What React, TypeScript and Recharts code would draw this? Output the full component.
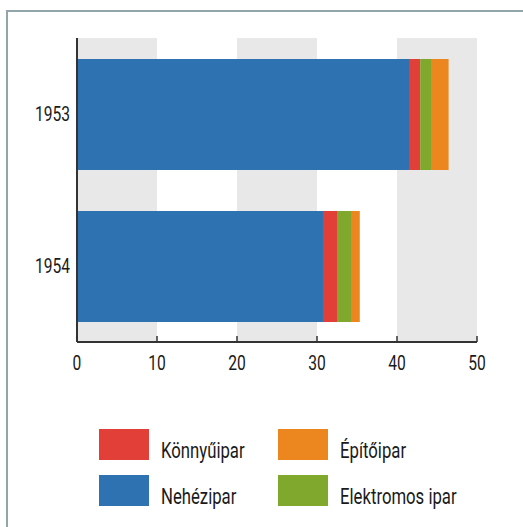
import React from 'react';
import { BarChart, Bar, XAxis, YAxis, ReferenceArea } from 'recharts';

const years = ['1953', '1954'];
const nehezipar = [41.5, 30.75];
const konnyuipar = [1.4, 1.75];
const elektromos = [1.35, 1.75];
const epitoipar = [2.2, 1.1];
const xTicks = [0, 10, 20, 30, 40, 50];
const bandStarts = [0, 20, 40];
const bandWidth = 10;

const series = [
  { key: 'nehezipar', name: 'Nehézipar', color: '#2e72b1', values: nehezipar },
  { key: 'konnyuipar', name: 'Könnyűipar', color: '#e23f39', values: konnyuipar },
  { key: 'elektromos', name: 'Elektromos ipar', color: '#7fa82c', values: elektromos },
  { key: 'epitoipar', name: 'Építőipar', color: '#ec8720', values: epitoipar },
];

const legendItems = [
  { name: 'Könnyűipar', color: '#e23f39', col: 0, row: 0 },
  { name: 'Nehézipar', color: '#2e72b1', col: 0, row: 1 },
  { name: 'Építőipar', color: '#ec8720', col: 1, row: 0 },
  { name: 'Elektromos ipar', color: '#7fa82c', col: 1, row: 1 },
];

const data = years.map((y, i) => {
  const row: any = { year: y };
  series.forEach((s) => { row[s.key] = s.values[i]; });
  return row;
});

const FONT = 'Roboto, sans-serif';
const TEXT = '#1a1a1a';
const SQUEEZE = 0.78;

const XTick = (props: any) => {
  const { x, y, payload } = props;
  return (
    <g>
      <line x1={x} x2={x} y1={y} y2={y - 6} stroke="#333" strokeWidth={1.5} />
      <text
        transform={`translate(${x},${y + 28}) scale(${SQUEEZE},1)`}
        x={0}
        y={0}
        textAnchor="middle"
        fill={TEXT}
        fontFamily={FONT}
        fontSize={20}
      >
        {payload.value}
      </text>
    </g>
  );
};

const YTick = (props: any) => {
  const { x, y, payload } = props;
  return (
    <text
      transform={`translate(${x},${y + 7}) scale(${SQUEEZE},1)`}
      x={0}
      y={0}
      textAnchor="end"
      fill={TEXT}
      fontFamily={FONT}
      fontSize={20}
    >
      {payload.value}
    </text>
  );
};

export default function App() {
  return (
    <div style={{ position: 'absolute', left: 0, top: 0, width: 523, height: 527, background: '#fff', fontFamily: FONT, overflow: 'hidden' }}>
      <div style={{ position: 'absolute', left: 6, top: 10, width: 540, height: 540, borderLeft: '2px solid #93a4ab', borderTop: '2px solid #93a4ab' }} />
      <div style={{ position: 'absolute', left: 0, top: 0 }}>
        <BarChart
          width={523}
          height={400}
          data={data}
          layout="vertical"
          margin={{ top: 38, right: 46, bottom: 28, left: 17 }}
          barSize={111}
        >
          {bandStarts.map((b) => (
            <ReferenceArea key={b} x1={b} x2={b + bandWidth} fill="#e8e8e8" fillOpacity={1} stroke="none" />
          ))}
          <XAxis
            type="number"
            domain={[0, 50]}
            ticks={xTicks}
            interval={0}
            axisLine={{ stroke: '#333', strokeWidth: 2 }}
            tickLine={false}
            tickSize={0}
            tickMargin={0}
            height={30}
            tick={<XTick />}
          />
          <YAxis
            type="category"
            dataKey="year"
            width={60}
            axisLine={{ stroke: '#333', strokeWidth: 2 }}
            tickLine={false}
            tickSize={0}
            tickMargin={7}
            tick={<YTick />}
          />
          {series.map((s) => (
            <Bar key={s.key} dataKey={s.key} name={s.name} stackId="a" fill={s.color} isAnimationActive={false} />
          ))}
        </BarChart>
      </div>
      {legendItems.map((it) => (
        <div key={it.name} style={{ position: 'absolute', left: it.col === 0 ? 99 : 278, top: it.row === 0 ? 428.5 : 474.5, height: 31, display: 'flex', alignItems: 'center' }}>
          <div style={{ width: 50, height: 31, background: it.color }} />
          <div style={{ marginLeft: 12, marginTop: 12, fontSize: 22, color: TEXT, fontFamily: FONT, whiteSpace: 'nowrap', transform: 'scaleX(0.76)', transformOrigin: 'left center' }}>{it.name}</div>
        </div>
      ))}
    </div>
  );
}
